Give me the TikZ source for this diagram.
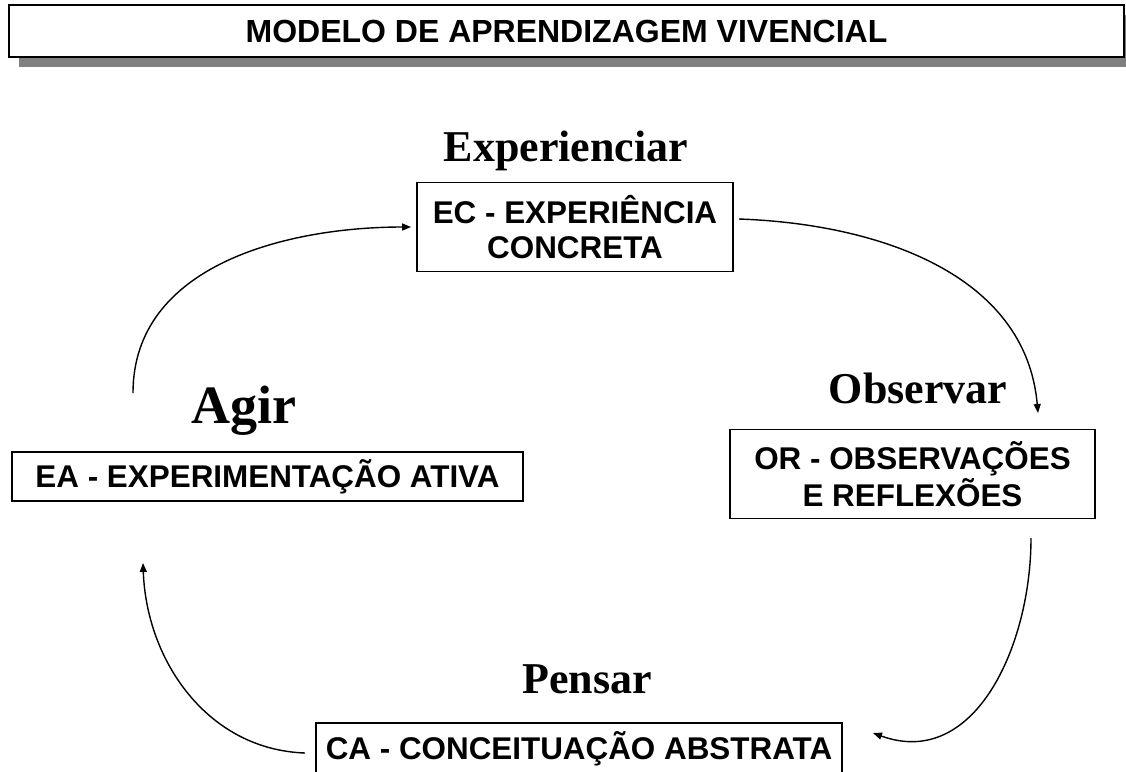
\documentclass[tikz,border=0pt]{standalone}
\usepackage{fontspec}
\setmainfont{Liberation Serif}
\setsansfont{Liberation Sans}
\usetikzlibrary{arrows.meta,shadows}

\tikzset{
  caixa/.style={draw, line width=0.9pt, fill=white, inner sep=0pt, align=center,
    font=\sffamily\bfseries\fontsize{15.7}{17.2}\selectfont},
  rotulo/.style={anchor=base, font=\bfseries\fontsize{22}{26}\selectfont},
  seta/.style={-{Triangle[length=4.5pt,width=3.5pt]}, line width=0.7pt}
}

\begin{document}
\begin{tikzpicture}[x=0.5pt,y=-0.5pt]
\useasboundingbox (0,0) rectangle (1126,772);
\clip (0,0) rectangle (1126,772);

% titulo
\node (titulo) at (566.5,31) [draw, line width=1pt, fill=white, minimum width=557.5pt, minimum height=26pt,
  drop shadow={shadow xshift=5pt, shadow yshift=-5pt, fill=gray, opacity=1},
  font=\sffamily\bfseries\fontsize{16}{19}\selectfont] {MODELO DE APRENDIZAGEM VIVENCIAL};

% as quatro etapas
\node (ec) at (575,227) [caixa, minimum width=158pt, minimum height=44.5pt] {EC - EXPERIÊNCIA\\CONCRETA};
\node (or) at (912.5,474) [caixa, minimum width=182.5pt, minimum height=44.5pt] {OR - OBSERVAÇÕES\\E REFLEXÕES};
\node (ca) at (579,748.5) [caixa, minimum width=263pt, minimum height=25.5pt] {CA - CONCEITUAÇÃO ABSTRATA};
\node (ea) at (267.5,476.5) [caixa, minimum width=255.5pt, minimum height=24.5pt] {EA - EXPERIMENTAÇÃO ATIVA};

\node (experienciar) at (566,161) [rotulo] {Experienciar};
\node (observar) at (918,403) [rotulo] {Observar};
\node (pensar) at (587,693) [rotulo] {Pensar};
\node (agir) at (244,423) [rotulo, font=\bfseries\fontsize{27}{32}\selectfont] {Agir};

% pontas livres das setas
\coordinate (s1) at (133,393);
\coordinate (s2) at (739,219);
\coordinate (f2) at (1038,413);
\coordinate (s3) at (1031,538);
\coordinate (f3) at (873,733);
\coordinate (s4) at (305,753);
\coordinate (f4) at (143,563);

\draw [seta, shorten >=2.5pt] (s1) to[out=90,in=180] (ec.west);
\draw [seta] (s2) to[out=-2,in=95] (f2);
\draw [seta] (s3) to[out=-90,in=-20,looseness=1.1] (f3);
\draw [seta] (s4) to[out=178,in=-88] (f4);
\end{tikzpicture}
\end{document}
